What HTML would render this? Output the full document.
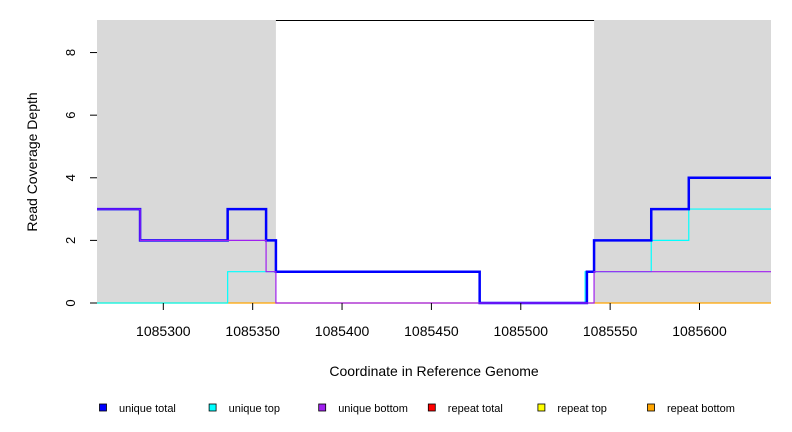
<!DOCTYPE html>
<html><head><meta charset="utf-8"><style>
body{margin:0;background:#fff;}
svg{display:block;font-family:"Liberation Sans",sans-serif;}
</style></head><body>
<svg id="chart" width="792" height="432"></svg>
<script>
const xTicks=[1085300,1085350,1085400,1085450,1085500,1085550,1085600];
const yTicks=[0,2,4,6,8];
const greyRegions=[[1085262.9,1085363],[1085541,1085640]];
const totalX=[1085262.9,1085287,1085336,1085357.5,1085363,1085477,1085537,1085541,1085573,1085594,1085640];
const totalY=[3,2,3,2,1,0,1,2,3,4];
const topX=[1085262.9,1085336,1085477,1085536,1085573,1085594,1085640];
const topY=[0,1,0,1,2,3];
const bottomX=[1085262.9,1085287,1085357.5,1085363,1085541,1085640];
const bottomY=[3,2,1,0,1];
const legendLabels=["unique total","unique top","unique bottom","repeat total","repeat top","repeat bottom"];
const legendColors=["#0000ff","#00ffff","#a020f0","#ff0000","#ffff00","#ffa500"];

const NS="http://www.w3.org/2000/svg";
const svg=document.getElementById('chart');
const X0=97,X1=771,Y0=303,Y1=20;
const xmin=1085262.9,xmax=1085640,ymax=9.04;
const sx=v=>X0+(v-xmin)/(xmax-xmin)*(X1-X0);
const sy=v=>Y0-v/ymax*(Y0-Y1);
function mk(t,a,p){const e=document.createElementNS(NS,t);for(const k in a)e.setAttribute(k,a[k]);(p||svg).appendChild(e);return e;}

let bg=mk('rect',{x:X0,y:Y1,width:X1-X0,height:Y0-Y1,fill:'#fff'});


greyRegions.forEach((r,i)=>{
  const e=mk('rect',{x:sx(r[0]),y:Y1,width:sx(r[1])-sx(r[0]),height:Y0-Y1,fill:'#d9d9d9'});
  
  
});
let tl=mk('line',{x1:sx(greyRegions[0][1]),x2:sx(greyRegions[1][0]),y1:Y1+0.5,y2:Y1+0.5,stroke:'#000','stroke-width':1});



function step(xs,ys,color,w,name){
  let d='M'+sx(xs[0])+' '+sy(ys[0]);
  for(let i=0;i<ys.length;i++){d+=' L'+sx(xs[i+1])+' '+sy(ys[i]);if(i+1<ys.length)d+=' L'+sx(xs[i+1])+' '+sy(ys[i+1]);}
  const p=mk('path',{d:d,fill:'none',stroke:color,'stroke-width':w});
  
  
}
let rp=mk('line',{x1:X0,x2:X1,y1:sy(0),y2:sy(0),stroke:'#ffa500','stroke-width':1.2});


step(topX,topY,'#00ffff',1.2,'unique-top-line');
step(totalX,totalY,'#0000ff',2.5,'unique-total-line');
step(bottomX,bottomY,'#a020f0',1.2,'unique-bottom-line');

const ya=mk('g',{});


yTicks.forEach(v=>{
  mk('line',{x1:90,x2:97,y1:sy(v),y2:sy(v),stroke:'#000'},ya);
  const t=mk('text',{x:0,y:0,'font-size':13,'text-anchor':'middle',transform:`translate(75,${sy(v)}) rotate(-90)`},ya);
  t.textContent=v;
});
const yt=mk('text',{'font-size':14,'text-anchor':'middle',transform:'translate(37,162) rotate(-90)'});
yt.textContent='Read Coverage Depth';


const xa=mk('g',{});


xTicks.forEach(v=>{
  mk('line',{x1:sx(v),x2:sx(v),y1:303,y2:310,stroke:'#000'},xa);
  const t=mk('text',{x:sx(v),y:336,'font-size':14,'text-anchor':'middle'},xa);
  t.textContent=v;
});
const xt=mk('text',{x:434,y:376,'font-size':14,'text-anchor':'middle'});
xt.textContent='Coordinate in Reference Genome';


legendLabels.forEach((l,i)=>{
  const g=mk('g',{});
  
  
  const cx=103+i*109.6;
  mk('rect',{x:cx-3.5,y:404,width:7,height:7,fill:legendColors[i],stroke:'#000','stroke-width':0.8},g);
  const t=mk('text',{x:cx+16,y:412,'font-size':11},g);
  t.textContent=l;
});
</script>
</body></html>
